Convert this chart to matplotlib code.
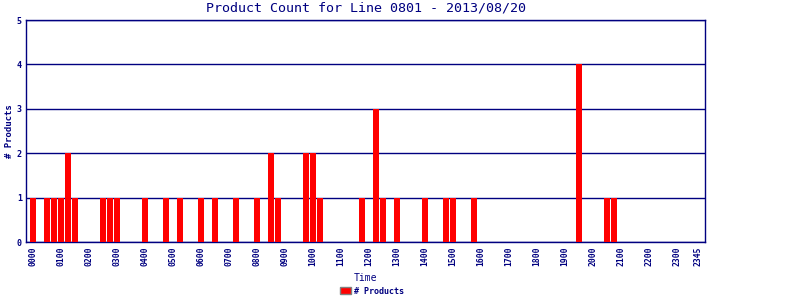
import numpy as np
import matplotlib.pyplot as plt
from matplotlib.patches import Patch

# 15-minute slots across the day (96 slots), counts
slot_index = [0, 2, 3, 4, 5, 6, 10, 11, 12, 16, 19, 21, 24, 26, 29, 32, 34, 35,
              39, 40, 41, 47, 49, 50, 52, 56, 59, 60, 63, 78, 82, 83]
slot_count = [1, 1, 1, 1, 2, 1, 1, 1, 1, 1, 1, 1, 1, 1, 1, 1, 2, 1,
              2, 2, 1, 1, 3, 1, 1, 1, 1, 1, 1, 4, 1, 1]

n_slots = 96
counts = np.zeros(n_slots)
counts[slot_index] = slot_count

tick_pos = list(range(0, 96, 4)) + [95]
tick_labels = ["%02d00" % h for h in range(24)] + ["2345"]

navy = "#000080"
mono = "DejaVu Sans Mono"

fig = plt.figure(figsize=(8, 3), dpi=100)
# 679 px wide axes, 97 slots -> exactly 7 px per slot
ax = fig.add_axes([26 / 800, 0.193, 679 / 800, 0.74])

ax.bar(np.arange(n_slots), counts, width=0.857, color="#ff0000",
       linewidth=0, antialiased=False, zorder=3)

ax.set_xlim(-1.0286, 95.9714)
ax.set_ylim(0, 5)
ax.set_yticks(range(6))
ax.yaxis.grid(True, color=navy, linewidth=1.0, zorder=1)
ax.set_axisbelow(True)

ax.set_xticks(tick_pos)
ax.set_xticklabels(tick_labels, rotation=90, fontfamily=mono,
                   fontsize=5.8, fontweight="bold", color=navy)
for lbl in ax.get_yticklabels():
    lbl.set_fontfamily(mono)
    lbl.set_fontsize(6)
    lbl.set_fontweight("bold")
    lbl.set_color(navy)
ax.tick_params(axis="both", length=0, pad=3)

for s in ax.spines.values():
    s.set_color(navy)
    s.set_linewidth(1.0)

ax.set_title("Product Count for Line 0801 - 2013/08/20", fontfamily=mono,
             fontsize=9.6, color=navy, pad=6)
ax.set_xlabel("Time", fontfamily=mono, fontsize=7, color=navy, labelpad=5)
ax.set_ylabel("# Products", fontfamily=mono, fontsize=6.5, color=navy,
              fontweight="bold", labelpad=2)

handle = Patch(facecolor="#ff0000", edgecolor="#808080", label="# Products")
fig.legend(handles=[handle], loc="lower center", bbox_to_anchor=(0.465, -0.01),
           frameon=False, prop={"family": mono, "size": 6, "weight": "bold"},
           handlelength=1.4, handleheight=0.9, handletextpad=0.4,
           labelcolor=navy)

fig.savefig("out.png", dpi=100)
